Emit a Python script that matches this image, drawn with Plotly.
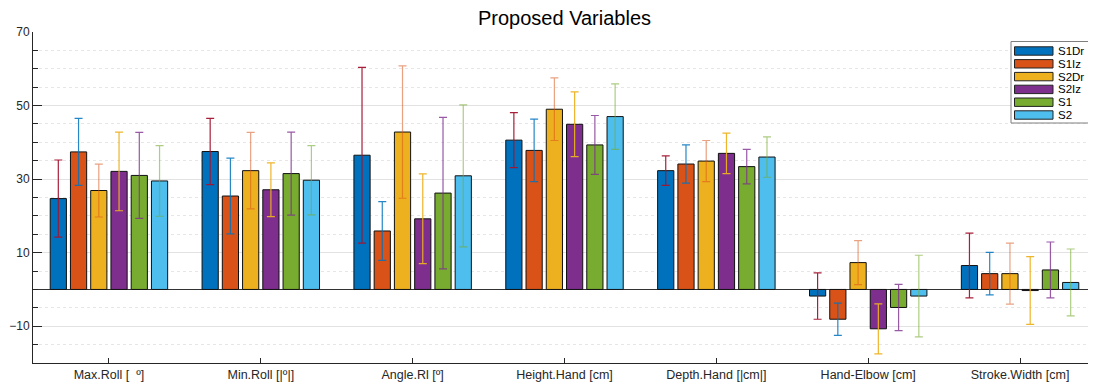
import plotly.graph_objects as go

categories = ["Max.Roll [  º]", "Min.Roll [|º|]", "Angle.Rl [º]", "Height.Hand [cm]",
              "Depth.Hand [|cm|]", "Hand-Elbow [cm]", "Stroke.Width [cm]"]
series_names = ["S1Dr", "S1Iz", "S2Dr", "S2Iz", "S1", "S2"]

S1Dr = [24.7, 37.5, 36.5, 40.6, 32.3, -1.8, 6.5]
S1Iz = [37.4, 25.4, 15.9, 37.8, 34.1, -8.1, 4.3]
S2Dr = [26.9, 32.3, 42.8, 49.0, 34.9, 7.3, 4.3]
S2Iz = [32.1, 27.1, 19.2, 44.9, 37.0, -10.7, -0.3]
S1 = [31.0, 31.5, 26.2, 39.3, 33.4, -4.9, 5.3]
S2 = [29.5, 29.7, 30.9, 47.0, 36.0, -1.8, 1.9]

S1Dr_err = [10.5, 9.0, 23.9, 7.5, 4.0, 6.3, 8.8]
S1Iz_err = [9.1, 10.3, 8.0, 8.5, 5.2, 4.4, 5.8]
S2Dr_err = [7.2, 10.4, 18.0, 8.5, 5.6, 6.0, 8.3]
S2Iz_err = [10.7, 7.3, 12.2, 8.8, 5.5, 6.8, 9.2]
S1_err = [11.7, 11.3, 20.6, 8.0, 4.7, 6.3, 7.6]
S2_err = [9.6, 9.4, 19.3, 8.9, 5.5, 11.1, 9.1]

values = [S1Dr, S1Iz, S2Dr, S2Iz, S1, S2]
errors = [S1Dr_err, S1Iz_err, S2Dr_err, S2Iz_err, S1_err, S2_err]

bar_colors = ["#0072BD", "#D95319", "#EDB120", "#7E2F8E", "#77AC30", "#4DBEEE"]
err_colors = ["rgba(162,20,47,0.95)", "rgba(0,114,189,0.85)", "rgba(217,83,25,0.55)",
              "rgba(237,177,32,0.95)", "rgba(126,47,142,0.8)", "rgba(119,172,48,0.6)"]

x_idx = list(range(1, len(categories) + 1))

fig = go.Figure()
for name, vals, errs, bc, ec in zip(series_names, values, errors, bar_colors, err_colors):
    fig.add_trace(go.Bar(
        x=x_idx, y=vals, name=name, showlegend=False,
        marker=dict(color=bc, line=dict(color="#111111", width=1)),
        error_y=dict(type="data", array=errs, visible=True, color=ec, thickness=1.2, width=4),
    ))

# custom MATLAB-style legend (box with wide swatches), in paper coordinates
PL, PR, PT, PB = 33.0, 1096.0, 32.0, 363.0   # plot area in page pixels
def px(x):
    return (x - PL) / (PR - PL)
def py(y):
    return (PB - y) / (PB - PT)

shapes = [dict(type="rect", xref="paper", yref="paper",
               x0=px(1011), x1=px(1092), y0=py(123), y1=py(41.5),
               fillcolor="white", line=dict(color="#7f7f7f", width=1), layer="above")]
annotations = []
for i, (name, bc) in enumerate(zip(series_names, bar_colors)):
    cy = 51.0 + i * 12.8
    shapes.append(dict(type="rect", xref="paper", yref="paper",
                       x0=px(1014.5), x1=px(1053), y0=py(cy + 4.2), y1=py(cy - 4.2),
                       fillcolor=bc, line=dict(color="#222222", width=1), layer="above"))
    annotations.append(dict(text=name, xref="paper", yref="paper", x=px(1055.5), y=py(cy),
                            xanchor="left", yanchor="middle", showarrow=False,
                            font=dict(family="Liberation Sans, Arial, sans-serif", size=11.5,
                                      color="#000000")))

font_family = "Liberation Sans, Arial, sans-serif"
# page has an 8px body margin: compensate so the plot area lands at x 33..1096, y 32..363
fig.update_layout(
    width=1088, height=381,
    margin=dict(l=25, r=0, t=24, b=26),
    paper_bgcolor="white", plot_bgcolor="white",
    barmode="group", bargap=0.2, bargroupgap=0.2,
    title=dict(text="Proposed Variables", x=0.5, xref="paper", xanchor="center",
               y=1, yref="paper", yanchor="bottom", pad=dict(b=7),
               font=dict(family=font_family, size=20, color="#000000")),
    font=dict(family=font_family, size=12, color="#262626"),
    showlegend=False,
    shapes=shapes,
    annotations=annotations,
    xaxis=dict(
        tickmode="array", tickvals=x_idx, ticktext=categories,
        range=[0.5, 7.5], showgrid=False, zeroline=False,
        showline=True, linecolor="#262626", linewidth=1,
        ticks="inside", ticklen=5, tickcolor="#262626",
        tickfont=dict(family=font_family, size=12.5, color="#262626"),
    ),
    yaxis=dict(
        range=[-20, 70], tickmode="linear", tick0=-10, dtick=20,
        showgrid=True, gridcolor="#e2e2e2", gridwidth=1,
        zeroline=True, zerolinecolor="#333333", zerolinewidth=1,
        showline=True, linecolor="#262626", linewidth=1,
        ticks="inside", ticklen=9, tickcolor="#262626",
        tickfont=dict(family=font_family, size=12, color="#262626"),
        minor=dict(tickmode="linear", tick0=0, dtick=5, showgrid=True,
                   gridcolor="#e6e6e6", griddash="dot", gridwidth=1,
                   ticks="inside", ticklen=5, tickcolor="#262626"),
    ),
)

fig.write_html("out.html")
